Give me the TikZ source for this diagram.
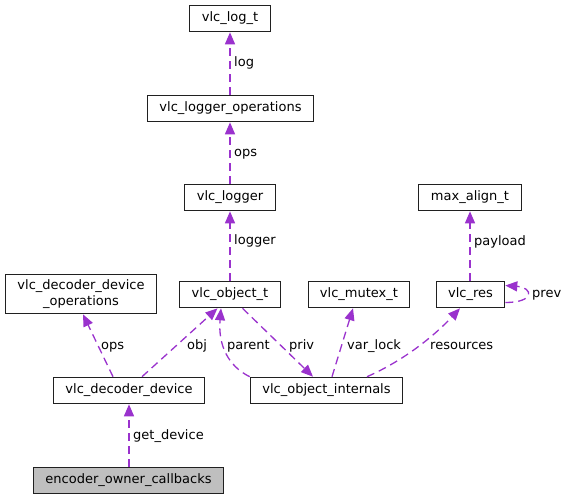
\documentclass[tikz,border=0pt]{standalone}
\usepackage{fontspec}
\setmainfont{DejaVu Sans}
\usetikzlibrary{arrows.meta}
\definecolor{edgec}{HTML}{9A32CD}
\definecolor{encfill}{HTML}{BFBFBF}
\definecolor{boxc}{HTML}{202020}
\tikzset{
  box/.style={draw=boxc, line width=1.6pt, fill=white, minimum height=26pt, inner sep=0pt, font=\fontsize{13pt}{15.5pt}\selectfont, align=center},
  edge/.style={draw=edgec, line width=1.3pt, dash pattern=on 8pt off 5pt, -{Triangle[length=12pt,width=10pt]}, shorten >=0pt},
  lbl/.style={anchor=base west, inner sep=0pt, font=\fontsize{13pt}{15.5pt}\selectfont}
}
\begin{document}
\begin{tikzpicture}[x=1pt,y=-1pt]
\useasboundingbox (0,0) rectangle (567,499);
% nodes
\node[box, minimum width=81pt] (log) at (230,18.5) {vlc\_log\_t};
\node[box, minimum width=166pt] (lops) at (230.5,108.5) {vlc\_logger\_operations};
\node[box, minimum width=91pt] (logger) at (230,197.5) {vlc\_logger};
\node[box, minimum width=103pt] (maxal) at (470,197.5) {max\_align\_t};
\node[box, minimum width=151pt, minimum height=39pt] (ddops) at (81,294) {vlc\_decoder\_device\\\_operations};
\node[box, minimum width=101pt] (obj) at (230,294.5) {vlc\_object\_t};
\node[box, minimum width=101pt] (mutex) at (359,294.5) {vlc\_mutex\_t};
\node[box, minimum width=68pt] (res) at (470.5,294.5) {vlc\_res};
\node[box, minimum width=151pt] (dd) at (129,390.5) {vlc\_decoder\_device};
\node[box, minimum width=152pt] (oi) at (326.5,390.5) {vlc\_object\_internals};
\node[box, minimum width=190pt, fill=encfill] (enc) at (128.5,480.5) {encoder\_owner\_callbacks};
% edges
\draw[edge] (lops.north -| log.south) -- (log.south);
\draw[edge] (logger.north) -- (logger.north |- lops.south);
\draw[edge] (obj.north) -- (logger.south);
\draw[edge] (res.north -| maxal.south) -- (maxal.south);
\draw[edge] ([yshift=-8pt]res.east) .. controls +(30pt,0pt) and +(28pt,-2pt) .. ([yshift=9pt]res.east);
\draw[edge] ([xshift=-16pt]dd.north) -- ([xshift=2pt]ddops.south);
\draw[edge] ([xshift=13pt]dd.north) -- ([xshift=-12.5pt]obj.south);
\draw[edge] (oi.north west) .. controls (228,366) and (218,345) .. ([xshift=-9pt]obj.south);
\draw[edge] ([xshift=12.5pt]obj.south) -- ([xshift=-13.5pt]oi.north);
\draw[edge] ([xshift=5.5pt]oi.north) -- ([xshift=-6pt]mutex.south);
\draw[edge] ([xshift=40.5pt]oi.north) .. controls (405,360) and (435,335) .. ([xshift=-10.5pt]res.south);
\draw[edge] (enc.north -| dd.south) -- (dd.south);
% labels
\node[lbl] (l1) at (234,66) {log};
\node[lbl] (l2) at (234,156) {ops};
\node[lbl] (l3) at (234,244) {logger};
\node[lbl] (l4) at (474,245) {payload};
\node[lbl] (l5) at (532,297) {prev};
\node[lbl] (l6) at (101,349) {ops};
\node[lbl] (l7) at (187,349) {obj};
\node[lbl] (l8) at (227,349) {parent};
\node[lbl] (l9) at (289,349) {priv};
\node[lbl] (l10) at (347,349) {var\_lock};
\node[lbl] (l11) at (430,349) {resources};
\node[lbl] (l12) at (133,439) {get\_device};
\end{tikzpicture}
\end{document}
